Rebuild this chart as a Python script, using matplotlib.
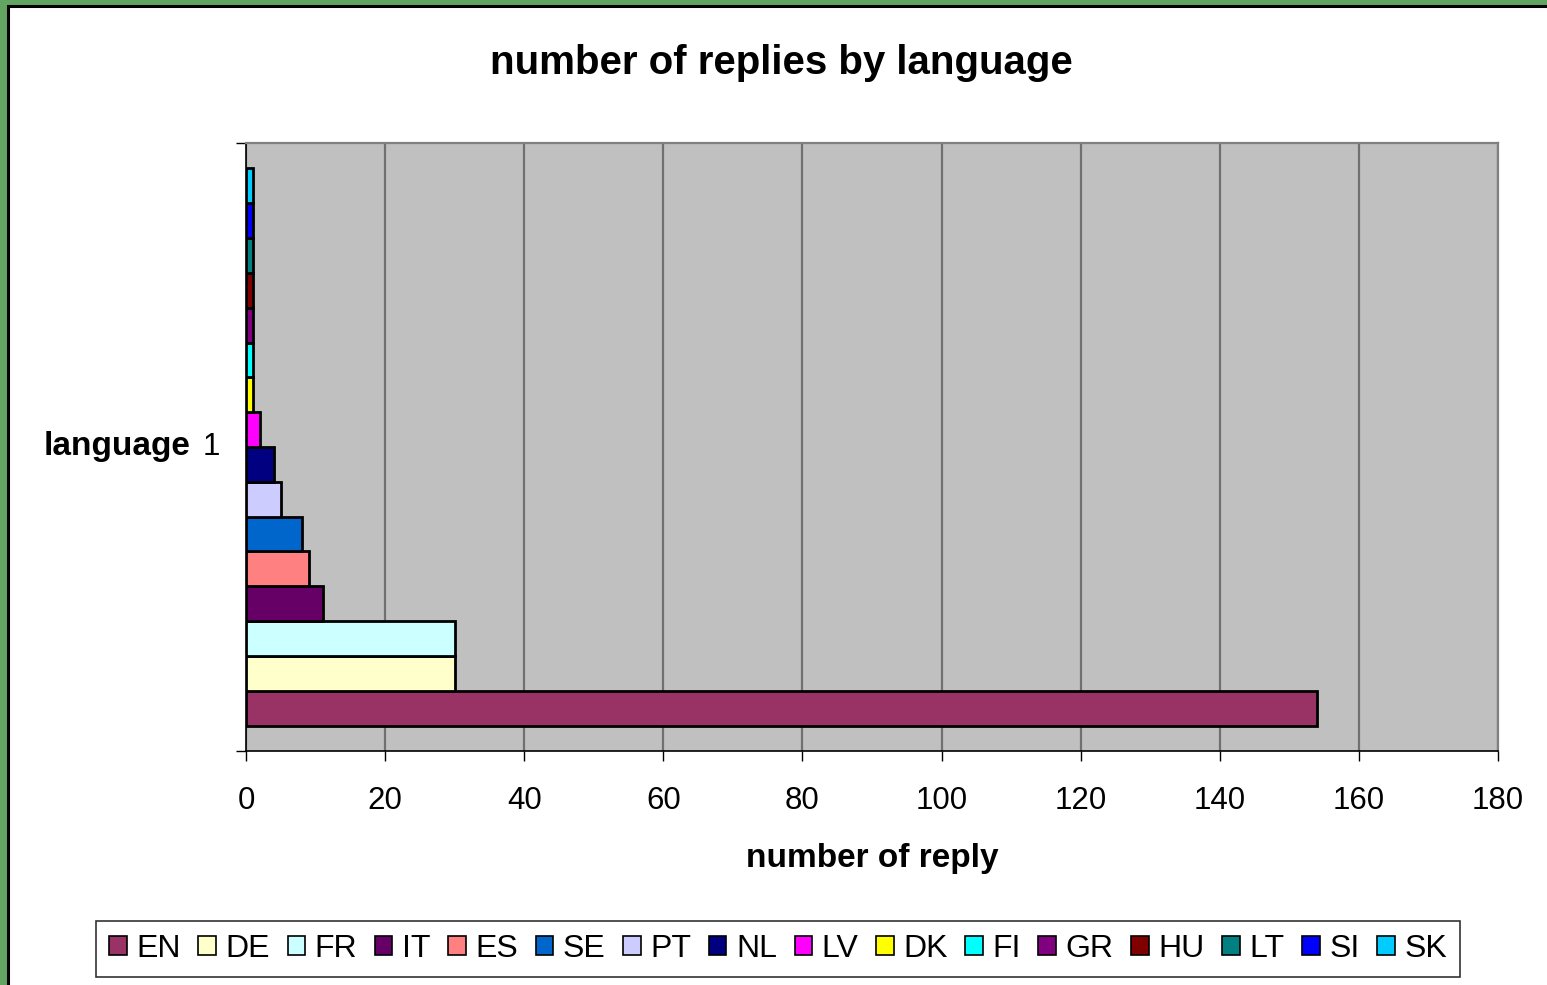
import matplotlib
matplotlib.use("Agg")
import matplotlib.pyplot as plt
from matplotlib.patches import Rectangle, Patch

plt.rcParams['font.family'] = ['Liberation Sans', 'DejaVu Sans']

# data (bottom to top)
languages = ['EN', 'DE', 'FR', 'IT', 'ES', 'SE', 'PT', 'NL',
             'LV', 'DK', 'FI', 'GR', 'HU', 'LT', 'SI', 'SK']
replies = [154, 30, 30, 11, 9, 8, 5, 4, 2, 1, 1, 1, 1, 1, 1, 1]
colors = ['#993366', '#FFFFCC', '#CCFFFF', '#660066', '#FF8080', '#0066CC',
          '#CCCCFF', '#000080', '#FF00FF', '#FFFF00', '#00FFFF', '#800080',
          '#800000', '#008080', '#0000FF', '#00CCFF']

fig = plt.figure(figsize=(15.47, 9.85), dpi=100)
fig.patch.set_facecolor('#62a562')
# white chart area with black frame
fig.patches.append(Rectangle((7.5 / 1547, -0.01), 1.0, 1 - 5.5 / 985 + 0.01,
                             transform=fig.transFigure, facecolor='white',
                             edgecolor='black', linewidth=2.2, zorder=-10))

ax = fig.add_axes([246 / 1547, 1 - 751 / 985, (1498 - 246) / 1547, (751 - 143) / 985])
ax.set_facecolor('#C0C0C0')

pos = list(range(len(languages)))
ax.barh(pos, replies, height=1.0, color=colors, edgecolor='black',
        linewidth=2.0, zorder=3)

ax.set_xlim(0, 180)
ax.set_ylim(-1.23, len(languages) - 1 + 1.23)
ax.set_xticks(range(0, 181, 20))
ax.tick_params(axis='x', labelsize=22.5, length=7, width=1, pad=18, direction='out')
ax.set_yticks([-1.23, len(languages) - 1 + 1.23])
ax.set_yticklabels(['', ''])
ax.tick_params(axis='y', length=7, width=1, direction='out')
ax.grid(axis='x', color='#707070', linewidth=1.6, zorder=1)

for s in ['top', 'right']:
    ax.spines[s].set_color('#808080')
    ax.spines[s].set_linewidth(1.6)
for s in ['left', 'bottom']:
    ax.spines[s].set_color('black')
    ax.spines[s].set_linewidth(1.2)

fig.text(781 / 1547, 1 - 63 / 985, 'number of replies by language', ha='center',
         va='center', fontsize=29, fontweight='bold')
fig.text(872 / 1547, 1 - 858 / 985, 'number of reply', ha='center', va='center',
         fontsize=24, fontweight='bold')
fig.text(190 / 1547, 1 - 447 / 985, 'language', ha='right', va='center',
         fontsize=24, fontweight='bold')
fig.text(211 / 1547, 1 - 447 / 985, '1', ha='center', va='center', fontsize=22.5)

handles = [Patch(facecolor=c, edgecolor='black', linewidth=1.2) for c in colors]
leg = fig.legend(handles, languages, ncol=len(languages), loc='center',
                 bbox_to_anchor=(778 / 1547, 1 - 949 / 985), fontsize=23,
                 frameon=True, fancybox=False, edgecolor='black',
                 handlelength=0.55, handleheight=0.55, handletextpad=0.3,
                 columnspacing=0.55, borderpad=0.4)
leg.get_frame().set_linewidth(1.2)

fig.savefig('out.png', dpi=100, facecolor=fig.get_facecolor())
